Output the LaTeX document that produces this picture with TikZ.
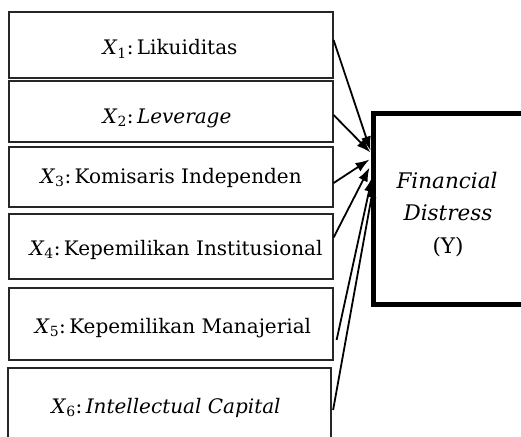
\documentclass[tikz,border=0pt]{standalone}
\usepackage{fontspec}
\setmainfont{DejaVu Serif}
\usetikzlibrary{arrows.meta,calc}
\begin{document}
\begin{tikzpicture}[x=1pt,y=-1pt,
  box/.style={draw=black!85, line width=1.2pt, rectangle, inner sep=0pt},
  ybox/.style={draw=black, line width=5pt, rectangle, inner sep=0pt},
  lbl/.style={font=\fontsize{20}{24}\selectfont, anchor=base, inner sep=0pt},
  ylbl/.style={font=\fontsize{21.5}{24}\selectfont, anchor=base, inner sep=0pt},
  arr/.style={line width=1.8pt, -{Latex[length=14pt,width=10pt]}},
]
\useasboundingbox (0,0) rectangle (521,436);
\node[box, minimum width=324, minimum height=66] (x1) at (171,45) {};
\node[box, minimum width=324, minimum height=61] (x2) at (171,111.5) {};
\node[box, minimum width=324, minimum height=60] (x3) at (171,177) {};
\node[box, minimum width=324, minimum height=65] (x4) at (171,246.5) {};
\node[box, minimum width=324, minimum height=72] (x5) at (171,324) {};
\node[box, minimum width=323, minimum height=77] (x6) at (169.5,406.5) {};
\node[ybox, minimum width=150, minimum height=191] (y) at (448,208.5) {};

\node[lbl] (t1) at (170,55) {\textit{X}\textsubscript{1}:\,Likuiditas};
\node[lbl] (t2) at (167,123) {\textit{X}\textsubscript{2}:\,\textit{Leverage}};
\node[lbl] (t3) at (171,183) {\textit{X}\textsubscript{3}:\,Komisaris Independen};
\node[lbl] (t4) at (176,255) {\textit{X}\textsubscript{4}:\,Kepemilikan Institusional};
\node[lbl] (t5) at (173,333) {\textit{X}\textsubscript{5}:\,Kepemilikan Manajerial};
\node[lbl] (t6) at (166,413) {\textit{X}\textsubscript{6}:\,\textit{Intellectual Capital}};
\node[ylbl] (f1) at (447,188) {\textit{Financial}};
\node[ylbl] (f2) at (448,220) {\textit{Distress}};
\node[ylbl] (f3) at (448,253) {(Y)};

\draw[arr] ($(x1.east)+(0,-5)$) -- ($(y.west)+(0,-58)$);
\draw[arr] ($(x2.east)+(0,3.5)$) -- ($(y.west)+(0,-56)$);
\draw[arr] ($(x3.east)+(0,6)$) -- ($(y.west)+(-1,-49)$);
\draw[arr] ($(x4.east)+(0,-9)$) -- ($(y.west)+(-1,-41)$);
\draw[arr] ($(x5.east)+(3,16)$) -- ($(y.west)+(1.5,-31)$);
\draw[arr] ($(x6.east)+(1.5,3.5)$) -- ($(y.west)+(3.5,-25)$);
\end{tikzpicture}
\end{document}
